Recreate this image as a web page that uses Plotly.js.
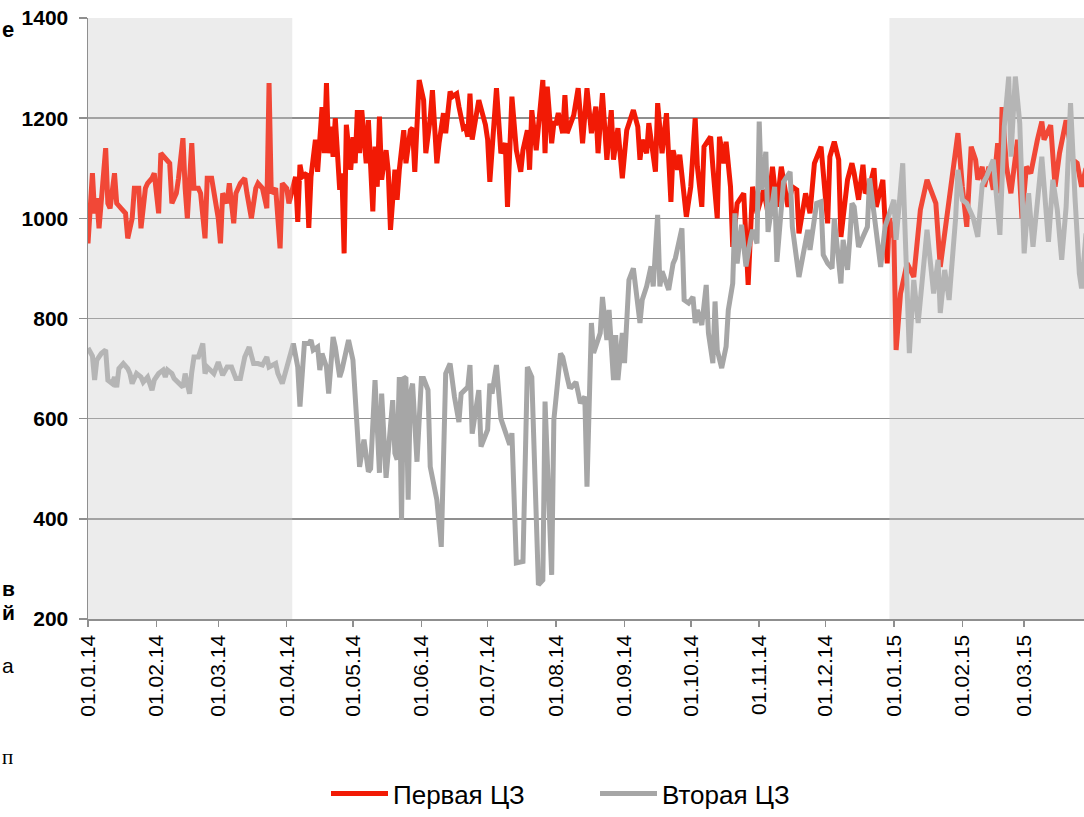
<!DOCTYPE html>
<html>
<head>
<meta charset="utf-8">
<script src="https://cdn.plot.ly/plotly-3.0.1.min.js"></script>
<style>
html,body{margin:0;padding:0;background:#fff;}
#chart{width:1084px;height:817px;}
</style>
</head>
<body>
<div id="chart"></div>
<script>
// Day offsets counted from 01.01.2014
const tickDays = [0,31,59,90,120,151,181,212,243,273,304,334,365,396,424];
const tickLabels = ['01.01.14','01.02.14','01.03.14','01.04.14','01.05.14','01.06.14','01.07.14','01.08.14','01.09.14','01.10.14','01.11.14','01.12.14','01.01.15','01.02.15','01.03.15'];
const yTicks = [200,400,600,800,1000,1200,1400];
const shadeFrom = [0, 363];
const shadeTo = [92.5, 460];

const seriesNames = ['Первая ЦЗ','Вторая ЦЗ'];

const redDays = [0,2,3,4,5,8,9,10,12,13,15,17,18,20,21,23,24,26,27,29,30,32,33,35,37,38,40,41,43,44,45,47,48,50,51,53,54,56,57,59,60,61,63,64,66,67,69,71,72,74,76,77,79,81,82,83,85,86,87,88,90,91,
94,95,96,97,99,100,101,103,104,106,107,108,109,110,111,112,114,115,116,117,119,120,121,122,123,124,126,127,129,130,131,132,133,134,135,136,137,139,140,141,143,144,146,147,148,150,152,153,155,156,158,159,161,162,164,165,167,168,170,171,172,173,174,176,177,180,181,182,184,185,187,189,190,192,194,196,197,199,200,201,203,204,206,207,208,210,211,212,213,215,216,217,218,220,222,224,226,228,230,231,233,235,237,238,240,242,244,247,249,250,251,253,254,257,258,260,262,264,265,267,268,271,273,275,276,278,279,282,283,285,286,288,289,291,292,294,297,299,301,303,306,308,310,312,314,317,319,321,322,325,327,329,332,333,335,336,338,340,341,344,346,347,349,351,352,354,356,357,360,362,363,365,366,368,371,374,377,380,384,386,389,392,394,396,398,400,402,403,405,406,408,410,412,413,414,416,418,421,423,425,427,430,432,433,436,438,440,443,446,448,450,452,454];
const redVals = [950,1090,1010,1040,980,1140,1030,1020,1090,1030,1020,1010,960,1000,1060,1060,980,1060,1070,1080,1090,1010,1130,1120,1110,1030,1050,1080,1160,1060,1000,1150,1060,1060,1050,960,1080,1080,1050,1000,950,1050,1030,1070,990,1050,1070,1080,1050,1000,1060,1070,1060,1020,1270,1050,1060,1000,940,1070,1060,1030,
1083,993,1107,1083,1090,981,1083,1157,1093,1222,1130,1270,1130,1183,1123,1200,1057,1090,930,1187,1097,1162,1110,1216,1130,1216,1110,1196,1014,1143,1063,1203,1077,1110,1136,1093,977,1097,1037,1097,1176,1110,1176,1180,1093,1276,1236,1130,1200,1256,1110,1150,1210,1170,1253,1243,1249,1223,1180,1183,1163,1249,1157,1210,1236,1187,1157,1073,1196,1260,1130,1150,1023,1243,1136,1093,1136,1176,1097,1216,1136,1176,1276,1130,1263,1150,1190,1190,1210,1170,1246,1170,1183,1206,1260,1150,1260,1170,1223,1130,1250,1117,1216,1117,1180,1080,1176,1216,1183,1117,1157,1130,1190,1093,1230,1130,1210,1033,1136,1097,1127,1003,1063,1200,1103,1023,1143,1163,1103,1000,1163,1110,1153,1063,943,1030,1050,867,1063,1010,1057,1010,1103,1023,1103,1023,1063,1057,970,1050,1010,1110,1143,1090,990,1123,1153,1117,963,1077,1110,1090,1037,1107,1050,1063,1100,1023,1077,910,1000,960,737,850,910,883,1017,1077,1030,903,1010,1110,1170,1063,983,1143,1117,1077,1103,1063,1103,1057,1150,1050,1222,1103,1050,1157,1000,1103,1090,1157,1193,1157,1186,1063,1130,1196,1117,1110,1063,1100,1080];

const grayDays = [0,2,3,4,6,8,9,11,12,13,14,16,18,19,20,22,24,25,27,29,30,32,34,35,36,38,39,41,43,44,46,47,48,50,52,53,54,57,59,61,63,65,67,69,71,73,75,77,79,81,82,85,86,88,91,93,95,96,98,100,101,102,104,105,106,108,109,111,112,114,115,118,120,121,123,125,127,128,130,132,133,135,137,138,139,140,141,142,143,144,145,146,147,149,151,152,154,155,158,160,162,164,166,168,169,172,173,174,177,178,181,182,183,185,187,190,191,192,194,197,198,199,201,203,204,206,207,210,211,214,215,217,218,219,221,223,225,226,228,229,231,232,233,235,236,238,239,240,242,243,245,247,248,250,251,253,255,256,258,259,260,262,263,265,266,269,270,272,274,275,276,278,280,281,283,284,285,287,289,290,292,293,294,296,298,300,301,303,304,305,307,308,309,311,312,315,318,319,322,323,326,327,330,332,333,335,337,338,341,342,344,345,346,347,349,351,353,354,356,359,361,365,366,369,372,374,376,378,380,383,385,386,388,390,393,394,396,398,401,403,405,407,410,413,415,417,418,420,422,424,426,428,431,432,435,437,439,441,443,445,447,449,450,452];
const grayVals = [741,725,677,717,730,737,677,670,683,663,700,710,700,690,670,690,683,673,683,657,677,690,697,683,697,690,680,673,663,690,650,693,723,723,750,690,703,690,713,687,703,703,680,680,723,743,710,710,707,723,703,710,690,670,723,750,703,624,750,750,757,737,743,697,730,703,650,763,743,683,697,757,717,637,504,558,494,500,677,492,650,482,598,637,531,518,683,398,683,680,438,650,670,514,680,680,657,504,438,344,690,710,643,593,650,663,707,570,657,544,578,670,650,707,600,564,548,571,312,315,544,703,683,398,268,278,634,288,598,730,723,683,664,663,673,631,644,464,791,731,764,771,843,757,817,677,767,677,771,711,877,900,864,791,837,864,904,864,1007,864,894,870,857,910,920,980,837,831,843,791,817,787,867,771,711,834,737,701,744,817,870,1010,910,987,904,957,977,950,1193,1057,1133,973,1000,1063,913,1073,1093,983,883,910,977,937,1030,1033,927,910,900,1000,870,957,897,957,1030,1023,943,963,983,1080,1003,903,983,1037,957,1110,731,877,791,890,977,850,917,811,897,837,1003,1097,1037,1030,1000,963,1067,1083,1117,967,1183,1283,1123,1283,1190,930,1050,943,1077,1123,953,1077,1017,917,1023,1230,1043,890,860,970];

const redColor = '#f21a05';
const grayColor = '#a6a6a6';
const gridColor = '#8f8f8f';

const traces = [
  {x: redDays, y: redVals, name: seriesNames[0], type: 'scatter', mode: 'lines',
   line: {color: redColor, width: 5, shape: 'linear'}},
  {x: grayDays, y: grayVals, name: seriesNames[1], type: 'scatter', mode: 'lines',
   line: {color: grayColor, width: 5, shape: 'linear'}}
];

const shapes = [];
for (let i = 0; i < shadeFrom.length; i++) {
  shapes.push({type: 'rect', xref: 'x', yref: 'y', x0: shadeFrom[i], x1: shadeTo[i], y0: 200, y1: 1400,
    fillcolor: '#ececec', line: {width: 0}, layer: 'below'});
  shapes.push({type: 'rect', xref: 'x', yref: 'y', x0: shadeFrom[i], x1: shadeTo[i], y0: 200, y1: 1400,
    fillcolor: 'rgba(236,236,236,0.22)', line: {width: 0}, layer: 'above'});
}

// letters of neighbouring page text at the left border
const fragments = [
  {t: 'е', py: 30, s: 22, b: true},
  {t: 'в', py: 588, s: 21, b: true},
  {t: 'й', py: 612, s: 21, b: true},
  {t: 'а', py: 665, s: 21, b: false},
  {t: 'п', py: 757, s: 21, b: false}
];
const annotations = fragments.map(f => ({
  xref: 'paper', yref: 'paper', x: (1 - 88) / 996, y: (619 - f.py) / 601, xanchor: 'left', yanchor: 'middle',
  text: f.b ? '<b>' + f.t + '</b>' : f.t, showarrow: false, borderpad: 0,
  font: {family: f.t === 'п' ? 'Liberation Serif, serif' : 'Arial, Liberation Sans, sans-serif', size: f.s, color: '#000'}
}));

const layout = {
  width: 1084, height: 817,
  margin: {l: 88, r: 0, t: 18, b: 198, autoexpand: false},
  paper_bgcolor: '#ffffff', plot_bgcolor: '#ffffff',
  showlegend: true,
  legend: {orientation: 'h', xref: 'paper', x: (326 - 88) / 996, xanchor: 'left',
    yref: 'container', y: 0, yanchor: 'bottom',
    font: {family: 'Arial, Liberation Sans, sans-serif', size: 26, color: '#000'},
    itemwidth: 57, entrywidth: 197, entrywidthmode: 'pixels', tracegroupgap: 0, bgcolor: 'rgba(0,0,0,0)'},
  xaxis: {range: [0, 451.1], tickmode: 'array', tickvals: tickDays, ticktext: tickLabels,
    tickangle: -90, ticks: 'outside', ticklen: 6, tickwidth: 1.5, tickcolor: gridColor,
    showgrid: false, zeroline: false, showline: true, linecolor: gridColor, linewidth: 1.5,
    tickfont: {family: 'Arial, Liberation Sans, sans-serif', size: 21, color: '#000'}, fixedrange: true},
  yaxis: {range: [200, 1400], tickmode: 'array', tickvals: yTicks, ticktext: yTicks.map(String),
    ticks: 'outside', ticklen: 8, tickwidth: 1.5, tickcolor: gridColor,
    showgrid: true, gridcolor: gridColor, gridwidth: 1.5, zeroline: false,
    showline: true, linecolor: gridColor, linewidth: 1.5,
    tickfont: {family: 'Arial, Liberation Sans, sans-serif', size: 21, color: '#000', weight: 'bold'},
    ticklabelstandoff: 6, fixedrange: true},
  shapes: shapes,
  annotations: annotations
};

Plotly.newPlot('chart', traces, layout, {staticPlot: true, displayModeBar: false});
</script>
</body>
</html>
